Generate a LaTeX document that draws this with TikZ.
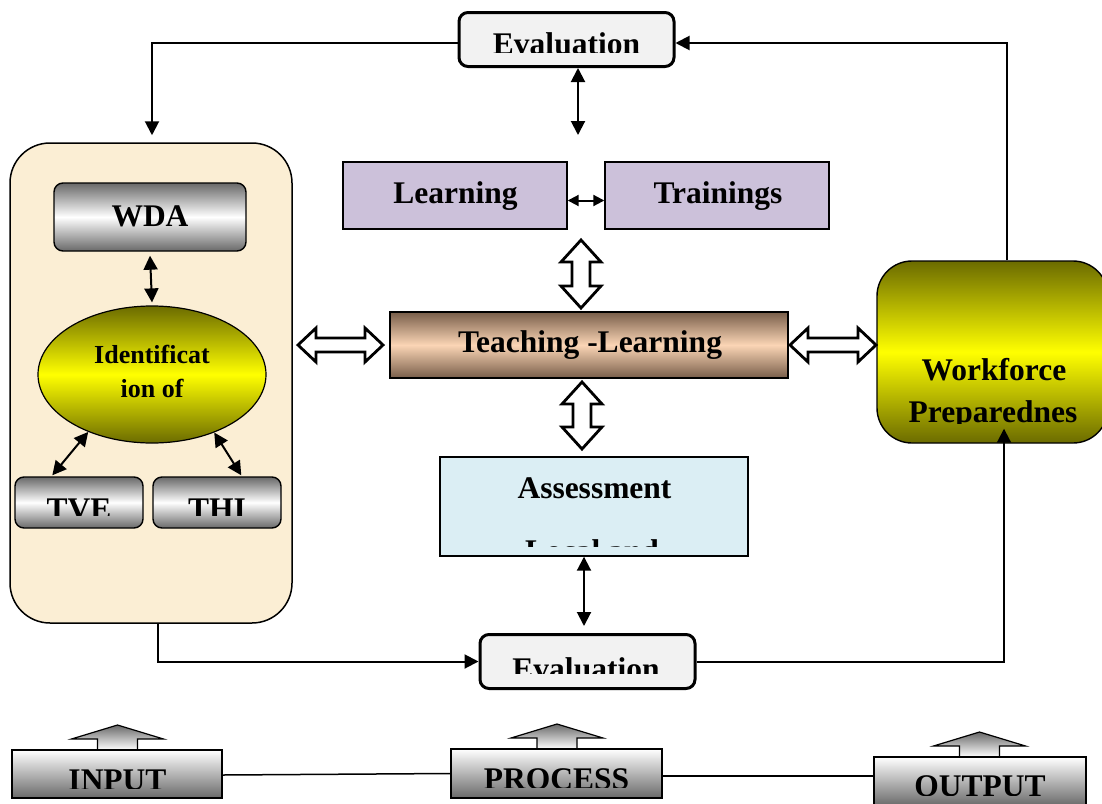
\documentclass[tikz,border=0pt]{standalone}
\usepackage{fontspec}
\setmainfont{Liberation Serif}
\usetikzlibrary{arrows.meta,shapes.geometric}
\definecolor{cream}{RGB}{251,238,212}
\definecolor{evalfill}{RGB}{242,242,242}
\definecolor{lav}{RGB}{204,193,218}
\definecolor{lblue}{RGB}{219,238,244}
\definecolor{olv}{RGB}{107,107,0}
\definecolor{ylw}{RGB}{255,255,0}
\definecolor{brdark}{RGB}{120,94,74}
\definecolor{peach}{RGB}{251,213,181}
\definecolor{gdark}{RGB}{105,105,105}
\newcommand\hollowV[3]{\draw[hollow] (#1,#2) -- ({#1+20},{#2+22}) -- ({#1+9},{#2+22}) -- ({#1+9},{#3-22}) -- ({#1+20},{#3-22}) -- (#1,#3) -- ({#1-20},{#3-22}) -- ({#1-9},{#3-22}) -- ({#1-9},{#2+22}) -- ({#1-20},{#2+22}) -- cycle;}
\newcommand\hollowH[3]{\draw[hollow] (#2,#1) -- ({#2+18},{#1-17}) -- ({#2+18},{#1-7}) -- ({#3-18},{#1-7}) -- ({#3-18},{#1-17}) -- (#3,#1) -- ({#3-18},{#1+17}) -- ({#3-18},{#1+7}) -- ({#2+18},{#1+7}) -- ({#2+18},{#1+17}) -- cycle;}
\newcommand\blockup[2]{\draw[blk] ({#1-20},#2) -- ({#1-20},{#2-11}) -- ({#1-46},{#2-11}) -- (#1,{#2-25}) -- ({#1+46},{#2-11}) -- ({#1+20},{#2-11}) -- ({#1+20},#2);}
\begin{document}
\begin{tikzpicture}[x=1pt,y=-1pt,
 lbl/.style={font=\fontsize{31.5}{36}\selectfont\bfseries, anchor=base, inner sep=0},
 slbl/.style={font=\fontsize{26}{30}\selectfont\bfseries, anchor=base, inner sep=0},
 box/.style={rectangle, draw, inner sep=0, line width=1.4pt},
 evalbox/.style={box, line width=3pt, rounded corners=9pt, fill=evalfill, minimum width=215pt, minimum height=54pt},
 graybox/.style={box, rounded corners=9pt, top color=gdark, bottom color=gdark, middle color=white},
 ioblock/.style={box, top color=white, bottom color=gdark},
 conn/.style={line width=2pt},
 arrowend/.style={-{Triangle[length=14pt,width=14pt]}},
 arrowboth/.style={{Triangle[length=14pt,width=14pt]}-{Triangle[length=14pt,width=14pt]}},
 arrowsmall/.style={{Triangle[length=11pt,width=11pt]}-{Triangle[length=11pt,width=11pt]}},
 hollow/.style={draw, line width=2.8pt, fill=white, line join=miter},
 blk/.style={draw, line width=1.2pt, top color=gdark, bottom color=white}
]
\useasboundingbox (0,0) rectangle (1102,803);

% left panel
\node[box, line width=1.5pt, rounded corners=40pt, fill=cream, minimum width=282pt, minimum height=480pt] (panel) at (151,383) {};
\node[graybox, minimum width=192pt, minimum height=68pt] (wda) at (150,217) {};
\node[lbl] (wdaT) at (150,226.7) {WDA};
\node[ellipse, draw, line width=1.2pt, inner sep=0, minimum width=228pt, minimum height=137pt, top color=olv, bottom color=olv, middle color=ylw] (ident) at (152,374.5) {};
\node[slbl] (identA) at (152,363) {Identificat};
\node[slbl] (identB) at (152,397) {ion of};
\node[graybox, minimum width=128pt, minimum height=51pt] (tve) at (79,502.5) {};
\node[graybox, minimum width=128pt, minimum height=51pt] (thi) at (217,502.5) {};
\begin{scope}
\clip (15,477) rectangle (281,515);
\node[lbl] (tveT) at (79,519) {TVE};
\node[lbl] (thiT) at (217,519) {THI};
\end{scope}
\draw[conn, arrowboth] ([yshift=-4pt]wda.south) -- ([yshift=3pt]ident.north);
\draw[conn, arrowboth] (ident.-138) -- ([xshift=38pt,yshift=1pt]tve.north west);
\draw[conn, arrowboth] (ident.-43) -- ([xshift=89pt,yshift=1pt]thi.north west);

% evaluation boxes
\node[evalbox] (evtop) at (566.5,39.5) {};
\begin{scope}
\clip (460,14) rectangle (673,52.8);
\node[lbl] (evtopT) at (566.5,54) {Evaluation};
\end{scope}
\node[evalbox] (evbot) at (587.5,661.5) {};
\begin{scope}
\clip (481,637) rectangle (694,673.3);
\node[lbl] (evbotT) at (586,679) {Evaluation};
\end{scope}

% centre column
\node[box, fill=lav, minimum width=224pt, minimum height=67pt] (learn) at (455,195.5) {};
\node[lbl] (learnT) at (455.5,203) {Learning};
\node[box, fill=lav, minimum width=224pt, minimum height=67pt] (train) at (717,195.5) {};
\node[lbl] (trainT) at (718,203) {Trainings};
\node[box, top color=brdark, bottom color=brdark, middle color=peach, minimum width=398pt, minimum height=66pt] (teach) at (589,345) {};
\node[lbl] (teachT) at (590,352) {Teaching -Learning};
\node[box, fill=lblue, minimum width=308pt, minimum height=99pt] (assess) at (594,506.5) {};
\node[lbl] (assessT) at (594.5,498) {Assessment};
\begin{scope}
\clip (441,530) rectangle (747,546);
\node[lbl] (assessL) at (592,561) {Local and};
\end{scope}

% workforce
\node[box, rounded corners=35pt, top color=olv, bottom color=olv, middle color=ylw, minimum width=231pt, minimum height=182pt] (wf) at (992.5,352) {};
\node[lbl] (wfA) at (994,380) {Workforce};
\begin{scope}
\clip (877,390) rectangle (1108,423.5);
\node[lbl] (wfB) at (993,422) {Preparednes};
\end{scope}

% hollow arrows
\hollowV{581}{240}{308}
\hollowV{582}{382}{449}
\hollowH{345}{298}{383}
\hollowH{345}{790}{876}

% connectors
\coordinate (evA) at (578,135);
\draw[conn, arrowend] ([yshift=-3.5pt]evtop.west) -| ([xshift=1pt,yshift=7pt]panel.north);
\draw[conn, arrowend] ([xshift=14.5pt]wf.north) |- ([yshift=-3.5pt]evtop.east);
\draw[conn, arrowboth] ([xshift=11.5pt]evtop.south) -- (evA);
\draw[conn, arrowboth] ([xshift=-10pt]assess.south) -- ([xshift=-3.5pt,yshift=7pt]evbot.north);
\draw[conn, arrowend] ([xshift=7pt]panel.south) |- (evbot.west);
\draw[conn, arrowend] (evbot.east) -| ([xshift=11.5pt,yshift=15pt]wf.south);
\draw[conn, arrowsmall] ([yshift=-5pt]learn.east) -- ([yshift=-5pt]train.west);

% input / process / output
\blockup{117.5}{750}
\node[ioblock, minimum width=210pt, minimum height=48pt] (inp) at (117,774) {};
\begin{scope}
\clip (12,750) rectangle (222,788);
\node[lbl] (inpT) at (117.5,790.8) {INPUT};
\end{scope}
\blockup{557}{749}
\node[ioblock, minimum width=211pt, minimum height=49pt] (proc) at (556.5,773.5) {};
\begin{scope}
\clip (451,749) rectangle (662,787.7);
\node[lbl] (procT) at (556.5,789) {PROCESS};
\end{scope}
\blockup{979.5}{757}
\node[ioblock, minimum width=212pt, minimum height=49pt] (outp) at (980,781.5) {};
\begin{scope}
\clip (874,757) rectangle (1086,795);
\node[lbl] (outpT) at (980,796) {OUTPUT};
\end{scope}
\draw[conn, line width=1.5pt] ([yshift=-1pt]inp.east) -- (proc.west);
\draw[conn, line width=1.5pt] ([yshift=-2.5pt]proc.east) -- ([yshift=5.5pt]outp.west);
\end{tikzpicture}
\end{document}
